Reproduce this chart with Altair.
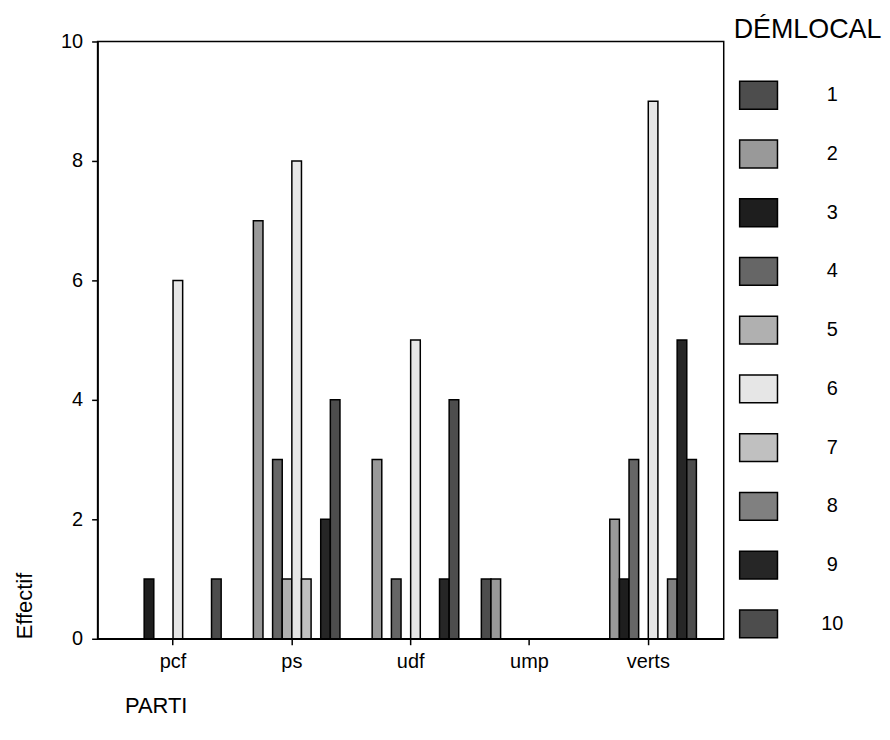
import altair as alt
import pandas as pd

parti = ["pcf", "pcf", "pcf",
         "ps", "ps", "ps", "ps", "ps", "ps", "ps",
         "udf", "udf", "udf", "udf", "udf",
         "ump", "ump",
         "verts", "verts", "verts", "verts", "verts", "verts", "verts"]
demlocal = [3, 6, 10,
            2, 4, 5, 6, 7, 9, 10,
            2, 4, 6, 9, 10,
            1, 2,
            2, 3, 4, 6, 8, 9, 10]
effectif = [1, 6, 1,
            7, 3, 1, 8, 1, 2, 4,
            3, 1, 5, 1, 4,
            1, 1,
            2, 1, 3, 9, 1, 5, 3]

categories = ["pcf", "ps", "udf", "ump", "verts"]
levels = [1, 2, 3, 4, 5, 6, 7, 8, 9, 10]
greys = ["#4d4d4d", "#999999", "#1e1e1e", "#666666", "#b0b0b0",
         "#e6e6e6", "#c0c0c0", "#808080", "#262626", "#4d4d4d"]

df = pd.DataFrame({"PARTI": parti, "DÉMLOCAL": demlocal, "Effectif": effectif})

FONT = "Liberation Sans"

chart = alt.Chart(df).mark_bar(stroke="black", strokeWidth=1.5).encode(
    x=alt.X("PARTI:N", sort=categories,
            scale=alt.Scale(domain=categories, paddingInner=0.19, paddingOuter=0.23),
            axis=alt.Axis(title="PARTI", labelAngle=0, labelFontSize=20, labelFont=FONT,
                          labelColor="black", tickColor="black", domainColor="black",
                          tickSize=6, labelPadding=7, titleFontSize=22, titleFont=FONT,
                          titleFontWeight="normal", titleColor="black",
                          titleAlign="left", titleX=27, titleY=67, titleBaseline="middle")),
    xOffset=alt.XOffset("DÉMLOCAL:O", scale=alt.Scale(domain=levels, paddingInner=0, paddingOuter=0)),
    y=alt.Y("Effectif:Q", scale=alt.Scale(domain=[0, 10], nice=False),
            axis=alt.Axis(title="Effectif", values=[0, 2, 4, 6, 8, 10], grid=False,
                          labelFontSize=20, labelFont=FONT, labelColor="black",
                          tickColor="black", domainColor="black", tickSize=6,
                          labelPadding=9, titleFontSize=22, titleFont=FONT,
                          titleFontWeight="normal", titleColor="black",
                          titleAnchor="start", titlePadding=24)),
    color=alt.Color("DÉMLOCAL:O",
                    scale=alt.Scale(domain=levels, range=greys),
                    legend=alt.Legend(title="DÉMLOCAL", orient="none", legendX=639, legendY=-24,
                                      titleFontSize=27, titleFont=FONT, titleFontWeight="normal",
                                      titleColor="black", titlePadding=31,
                                      symbolType="M-1,-0.737L1,-0.737L1,0.737L-1,0.737Z",
                                      symbolSize=1444, symbolStrokeColor="black",
                                      symbolStrokeWidth=1.5, symbolOpacity=1,
                                      symbolOffset=5, rowPadding=21,
                                      labelFontSize=20, labelFont=FONT, labelColor="black",
                                      labelAlign="center", labelOffset=54, padding=0)),
).properties(
    width=629, height=600,
    padding={"left": 5, "top": 8, "right": 0, "bottom": 5},
).configure_view(
    stroke="black", strokeWidth=1.5
).configure_axis(
    domainWidth=1.5, tickWidth=1.5
)

chart.save("out.html", embed_options={"renderer": "svg", "actions": False})
